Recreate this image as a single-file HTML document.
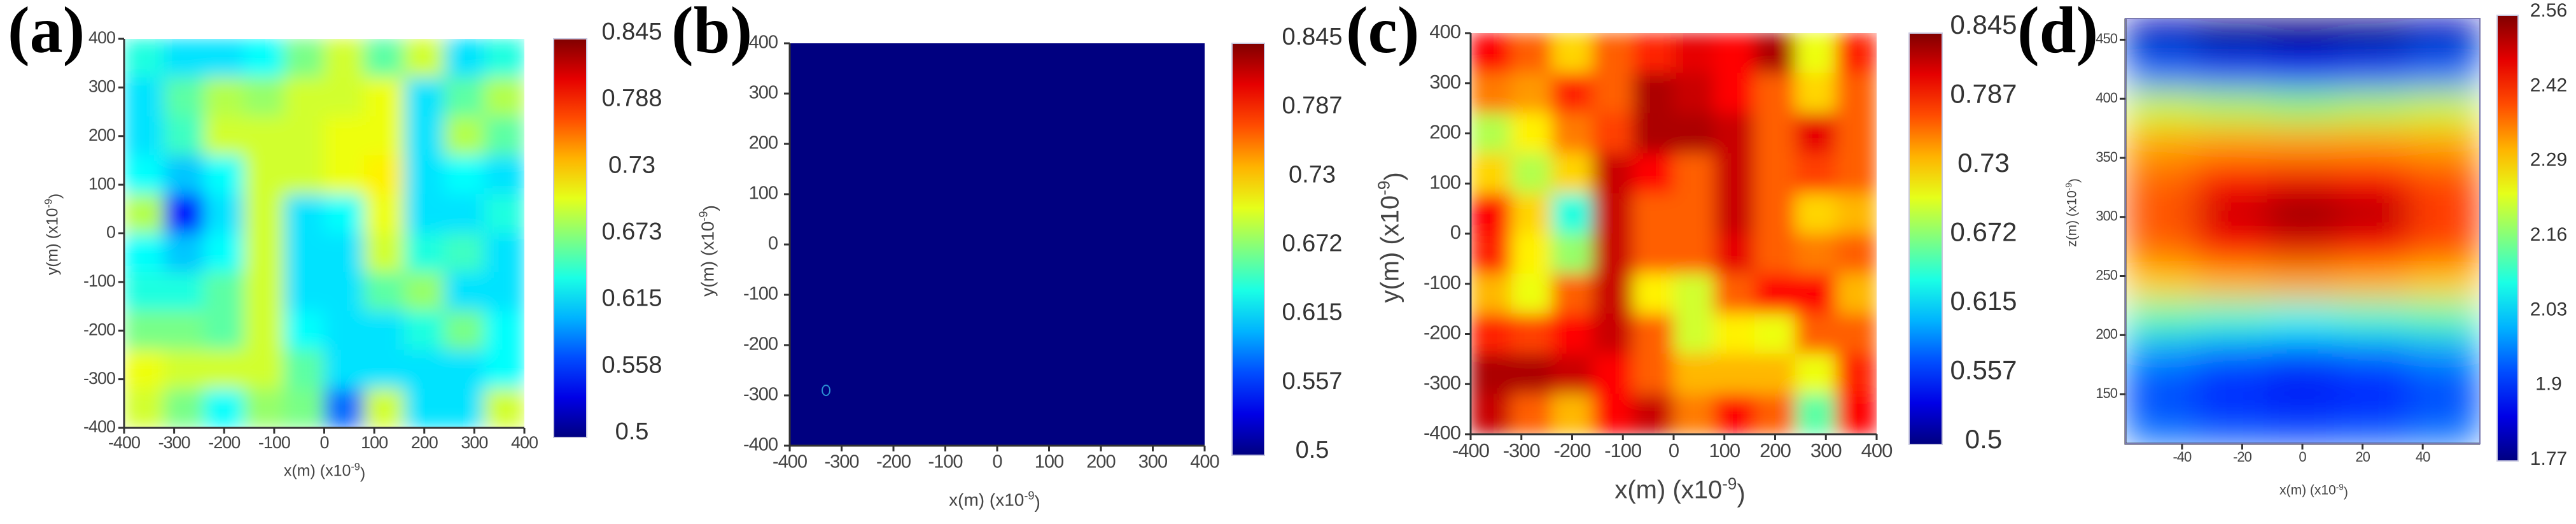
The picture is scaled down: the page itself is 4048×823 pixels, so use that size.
<!DOCTYPE html>
<html><head><meta charset="utf-8">
<style>
html,body{margin:0;padding:0;background:#fff;}
svg{display:block;font-family:"Liberation Sans",sans-serif;}
</style></head>
<body>
<svg id="fig" width="4048" height="823" viewBox="0 0 4048 823" xmlns="http://www.w3.org/2000/svg">
<defs>
<filter id="blurS" x="0" y="0" width="1" height="1"><feGaussianBlur stdDeviation="14" edgeMode="duplicate"/></filter>
<filter id="blurL" x="0" y="0" width="1" height="1"><feGaussianBlur stdDeviation="28" edgeMode="duplicate"/></filter>
</defs>
</svg>
<script>
// ---------- data ----------
const xTicksNm = [-400,-300,-200,-100,0,100,200,300,400];
const yTicksNm = [-400,-300,-200,-100,0,100,200,300,400];
const cbTicksA = ["0.845","0.788","0.73","0.673","0.615","0.558","0.5"];
const cbTicksBC = ["0.845","0.787","0.73","0.672","0.615","0.557","0.5"];
const cbTicksD = ["2.56","2.42","2.29","2.16","2.03","1.9","1.77"];
const xTicksD = [-40,-20,0,20,40];
const yTicksD = [150,200,250,300,350,400,450];
// panel (a) rows top->bottom, cols left->right
const gridA = [
 [0.64,0.62,0.62,0.63,0.67,0.70,0.66,0.70,0.62,0.64],
 [0.62,0.66,0.69,0.68,0.70,0.70,0.71,0.62,0.66,0.69],
 [0.62,0.65,0.70,0.70,0.70,0.71,0.71,0.62,0.69,0.66],
 [0.63,0.61,0.63,0.70,0.70,0.71,0.72,0.62,0.63,0.62],
 [0.69,0.55,0.62,0.70,0.62,0.63,0.71,0.62,0.62,0.64],
 [0.63,0.61,0.63,0.70,0.62,0.62,0.70,0.64,0.65,0.62],
 [0.64,0.64,0.66,0.70,0.62,0.62,0.66,0.68,0.62,0.62],
 [0.67,0.67,0.66,0.70,0.63,0.62,0.62,0.64,0.67,0.63],
 [0.71,0.70,0.70,0.70,0.66,0.62,0.62,0.62,0.62,0.63],
 [0.70,0.67,0.63,0.68,0.67,0.58,0.70,0.62,0.62,0.70]
];
const gridB = [[0.5]];
const gridC = [
 [0.80,0.77,0.73,0.77,0.79,0.81,0.80,0.83,0.71,0.79],
 [0.76,0.75,0.79,0.77,0.83,0.82,0.80,0.77,0.73,0.77],
 [0.69,0.72,0.76,0.78,0.83,0.83,0.82,0.77,0.81,0.77],
 [0.73,0.69,0.73,0.82,0.80,0.77,0.82,0.77,0.78,0.77],
 [0.80,0.73,0.64,0.82,0.77,0.77,0.82,0.77,0.73,0.74],
 [0.79,0.72,0.68,0.82,0.77,0.77,0.81,0.77,0.76,0.77],
 [0.74,0.71,0.77,0.82,0.72,0.70,0.77,0.80,0.80,0.74],
 [0.79,0.78,0.80,0.82,0.77,0.70,0.72,0.71,0.77,0.77],
 [0.83,0.83,0.82,0.80,0.77,0.74,0.74,0.74,0.71,0.79],
 [0.82,0.77,0.74,0.80,0.82,0.76,0.80,0.77,0.66,0.80]
];
const gridD = [
 [1.82,1.78,1.77,1.78,1.82],
 [1.95,1.92,1.90,1.92,1.95],
 [2.22,2.20,2.18,2.20,2.22],
 [2.33,2.34,2.34,2.34,2.33],
 [2.38,2.45,2.47,2.46,2.40],
 [2.40,2.50,2.55,2.52,2.42],
 [2.38,2.46,2.48,2.46,2.40],
 [2.30,2.32,2.33,2.32,2.30],
 [2.12,2.10,2.08,2.10,2.12],
 [1.98,1.95,1.93,1.95,1.98],
 [1.92,1.88,1.86,1.87,1.92],
 [1.95,1.93,1.92,1.93,1.95]
];

// ---------- helpers ----------
const NS = "http://www.w3.org/2000/svg";
const fig = document.getElementById('fig');
function mk(tag, attrs, parent){ const e=document.createElementNS(NS,tag); for(const k in attrs) e.setAttribute(k,attrs[k]); (parent||fig).appendChild(e); return e; }
function clamp(v){return Math.max(0,Math.min(1,v));}
function jet(t){
  t=clamp(t);
  const r=clamp(1.5-Math.abs(4*t-3)), g=clamp(1.5-Math.abs(4*t-2)), b=clamp(1.5-Math.abs(4*t-1));
  return `rgb(${Math.round(r*255)},${Math.round(g*255)},${Math.round(b*255)})`;
}

function panel(p){
  const grp = mk('g',{});
  
  
  const sx = v => p.x0 + (v - p.xmin)/(p.xmax-p.xmin)*(p.x1-p.x0);
  const sy = v => p.y1 - (v - p.ymin)/(p.ymax-p.ymin)*(p.y1-p.y0);
  const clipId = 'clip-'+p.name;
  const cp = mk('clipPath',{id:clipId},grp);
  mk('rect',{x:p.x0,y:p.y0,width:p.x1-p.x0,height:p.y1-p.y0},cp);
  const hm = mk('g',{'clip-path':`url(#${clipId})`},grp);
  
  
  const inner = mk('g', p.filter?{filter:`url(#${p.filter})`}:{}, hm);
  const rows = p.grid.length, cols = p.grid[0].length;
  const dx=(p.xmax-p.xmin)/cols, dy=(p.ymax-p.ymin)/rows;
  for(let r=0;r<rows;r++) for(let c=0;c<cols;c++){
    const v=p.grid[r][c];
    const xa=sx(p.xmin+c*dx), xb=sx(p.xmin+(c+1)*dx);
    const ya=sy(p.ymax-r*dy), yb=sy(p.ymax-(r+1)*dy);
    const cell = mk('rect',{x:xa-0.5,y:ya-0.5,width:xb-xa+1,height:yb-ya+1,fill:jet((v-p.vmin)/(p.vmax-p.vmin))},inner);
    
    
  }
  const ax = mk('path',{d:`M${p.x0},${p.y0} V${p.y1} H${p.x1}`,stroke:'#333',fill:'none','stroke-width':3},grp);
  
  
  if(p.frame){ const fr=mk('rect',{x:p.x0,y:p.y0,width:p.x1-p.x0,height:p.y1-p.y0,fill:'none',stroke:'#7a7ab0','stroke-width':2},grp);   }
  p.xt.forEach(v=>{
    const X=sx(v);
    mk('line',{x1:X,y1:p.y1,x2:X,y2:p.y1+9,stroke:'#333','stroke-width':3},grp);
    const t=mk('text',{x:X,y:p.xly,'font-size':p.tfs,fill:'#444','text-anchor':'middle','dominant-baseline':'middle','letter-spacing':'-1'},grp);
    t.textContent=v;
    
    
  });
  p.yt.forEach(v=>{
    const Y=sy(v);
    mk('line',{x1:p.x0-9,y1:Y,x2:p.x0,y2:Y,stroke:'#333','stroke-width':3},grp);
    const t=mk('text',{x:p.ylx,y:Y,'font-size':p.tfs,fill:'#444','text-anchor':'end','dominant-baseline':'middle','letter-spacing':'-1'},grp);
    t.textContent=v;
    
    
  });
  const xtitle=mk('text',{x:p.xtx,y:p.xty,'font-size':p.afs,fill:'#444','text-anchor':'middle','dominant-baseline':'middle'},grp);
  xtitle.innerHTML='x(m) (x10<tspan dy="-0.4em" font-size="0.65em">-9</tspan><tspan dy="0.4em">)</tspan>';
  
  
  const ytitle=mk('text',{x:0,y:0,'font-size':p.afs,fill:'#444','text-anchor':'middle','dominant-baseline':'middle',transform:`translate(${p.ytx},${p.yty}) rotate(-90)`},grp);
  ytitle.innerHTML=p.ylab+'(m) (x10<tspan dy="-0.4em" font-size="0.65em">-9</tspan><tspan dy="0.4em">)</tspan>';
  
  
  const gid='grad-'+p.name;
  const lg=mk('linearGradient',{id:gid,x1:0,y1:1,x2:0,y2:0},grp);
  for(let i=0;i<=10;i++) mk('stop',{offset:i/10,'stop-color':jet(i/10)},lg);
  const cb=mk('rect',{x:p.cbx0,y:p.cby0,width:p.cbx1-p.cbx0,height:p.cby1-p.cby0,fill:`url(#${gid})`,stroke:'#c8c8e0','stroke-width':2},grp);
  
  
  p.cbt.forEach((s,i)=>{
    const Y=p.cbl0+(p.cbl1-p.cbl0)*i/(p.cbt.length-1);
    const t=mk('text',{x:p.cblx,y:Y,'font-size':p.cfs,fill:'#333','text-anchor':'middle','dominant-baseline':'middle'},grp);
    t.textContent=s;
    
    
  });
  const L=mk('text',{x:p.lx,y:82,'font-size':104,'font-weight':'bold','font-family':'"Liberation Serif",serif',fill:'#000'},grp);
  L.textContent=p.letter;
  
  
  return {grp,sx,sy};
}

panel({name:'panel-a',grid:gridA,vmin:0.5,vmax:0.845,filter:'blurS',
  x0:195,x1:824,y0:61,y1:672,xmin:-400,xmax:400,ymin:-400,ymax:400,
  xt:xTicksNm,yt:yTicksNm,tfs:27,xly:697,ylx:181,
  afs:25,xtx:510,xty:741,ytx:84,yty:368,ylab:'y',
  cbx0:870,cbx1:922,cby0:61,cby1:687,cbt:cbTicksA,cbl0:52,cbl1:680,cblx:993,cfs:38,
  letter:'(a)',lx:12});
const pb = panel({name:'panel-b',grid:gridB,vmin:0.5,vmax:0.845,
  x0:1241,x1:1893,y0:68,y1:700,xmin:-400,xmax:400,ymin:-400,ymax:400,
  xt:xTicksNm,yt:yTicksNm,tfs:29,xly:727,ylx:1222,
  afs:28,xtx:1563,xty:787,ytx:1114,yty:394,ylab:'y',
  cbx0:1936,cbx1:1987,cby0:68,cby1:715,cbt:cbTicksBC,cbl0:60,cbl1:709,cblx:2062,cfs:38,
  letter:'(b)',lx:1055});
const ring = mk('ellipse',{cx:pb.sx(-330),cy:pb.sy(-290),rx:6,ry:8,fill:'none',stroke:'#2a8cd0','stroke-width':2});


panel({name:'panel-c',grid:gridC,vmin:0.5,vmax:0.845,filter:'blurS',
  x0:2311,x1:2949,y0:52,y1:682,xmin:-400,xmax:400,ymin:-400,ymax:400,
  xt:xTicksNm,yt:yTicksNm,tfs:31,xly:710,ylx:2295,
  afs:40,xtx:2640,xty:772,ytx:2187,yty:373,ylab:'y',
  cbx0:3000,cbx1:3052,cby0:52,cby1:698,cbt:cbTicksBC,cbl0:42,cbl1:693,cblx:3117,cfs:42,
  letter:'(c)',lx:2115});
panel({name:'panel-d',grid:gridD,vmin:1.77,vmax:2.56,filter:'blurL',frame:true,
  x0:3340,x1:3897,y0:29,y1:697,xmin:-58.8,xmax:59,ymin:108,ymax:468,
  xt:xTicksD,yt:yTicksD,tfs:22,xly:719,ylx:3327,
  afs:21,xtx:3636,xty:771,ytx:3257,yty:334,ylab:'z',
  cbx0:3924,cbx1:3957,cby0:24,cby1:724,cbt:cbTicksD,cbl0:18,cbl1:722,cblx:4005,cfs:30,
  letter:'(d)',lx:3170});
</script>
</body></html>
